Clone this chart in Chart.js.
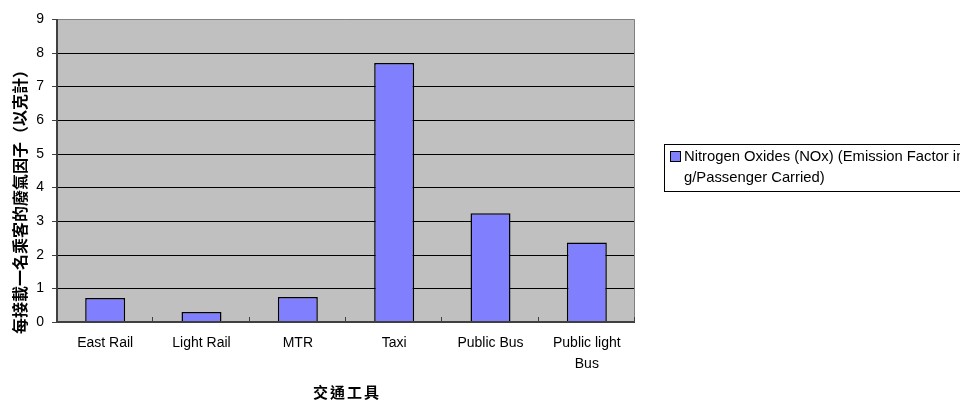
<!DOCTYPE html>
<html>
<head>
<meta charset="utf-8">
<script src="https://cdn.jsdelivr.net/npm/chart.js@4.4.1/dist/chart.umd.min.js"></script>
<style>
  html, body { margin: 0; padding: 0; background: #fff; }
  #wrap { width: 960px; height: 401px; position: relative; overflow: hidden; }
</style>
</head>
<body>
<div id="wrap"><canvas id="c" width="960" height="401"></canvas></div>
<script>
// Transport modes and NOx emission factor per passenger carried (grams)
const categories = ['East Rail', 'Light Rail', 'MTR', 'Taxi', 'Public Bus', ['Public light', 'Bus']];
const noxValues = [0.71, 0.30, 0.74, 7.69, 3.23, 2.36];
const seriesLabel = ['Nitrogen Oxides (NOx) (Emission Factor in', 'g/Passenger Carried)'];
const yTicks = [0, 1, 2, 3, 4, 5, 6, 7, 8, 9];
const yTitle = '每接載一名乘客的廢氣因子（以克計）';
const xTitle = '交通工具';

const LATIN = '"Liberation Sans", Arial, sans-serif';
const CJK = '"Noto Sans CJK TC", "Noto Sans CJK SC", sans-serif';
const BAR_FILL = '#8080FF';

// Grey plot background, gridlines, frame and tick marks
const plotFrame = {
  id: 'plotFrame',
  beforeDatasetsDraw(chart) {
    const { ctx, chartArea: a } = chart;
    const y = chart.scales.y;
    ctx.save();
    ctx.fillStyle = '#C0C0C0';
    ctx.fillRect(a.left, a.top, a.right - a.left, a.bottom - a.top);
    ctx.strokeStyle = '#000';
    ctx.lineWidth = 1;
    yTicks.forEach(v => {
      if (v === 0 || v === 9) return;
      const py = Math.round(y.getPixelForValue(v)) + 0.5;
      ctx.beginPath();
      ctx.moveTo(a.left, py);
      ctx.lineTo(a.right, py);
      ctx.stroke();
    });
    ctx.strokeStyle = '#808080';
    ctx.beginPath();
    ctx.moveTo(a.left, a.top + 0.5);
    ctx.lineTo(a.right - 0.5, a.top + 0.5);
    ctx.lineTo(a.right - 0.5, a.bottom);
    ctx.stroke();
    ctx.restore();
  },
  afterDatasetsDraw(chart) {
    const { ctx, chartArea: a } = chart;
    const y = chart.scales.y;
    ctx.save();
    ctx.strokeStyle = '#404040';
    ctx.lineWidth = 2;
    ctx.beginPath();
    ctx.moveTo(a.left, a.top);
    ctx.lineTo(a.left, a.bottom);
    ctx.lineTo(a.right, a.bottom);
    ctx.stroke();
    ctx.lineWidth = 1;
    // value ticks point outward
    yTicks.forEach(v => {
      const py = Math.round(y.getPixelForValue(v)) + 0.5;
      ctx.beginPath();
      ctx.moveTo(a.left - 5, py);
      ctx.lineTo(a.left, py);
      ctx.stroke();
    });
    // category boundary ticks point inward
    const step = (a.right - a.left) / categories.length;
    for (let i = 1; i <= categories.length; i++) {
      const px = Math.round(a.left + step * i) - 0.5;
      ctx.beginPath();
      ctx.moveTo(px, a.bottom);
      ctx.lineTo(px, a.bottom - 5);
      ctx.stroke();
    }
    ctx.restore();
  }
};

// Axis titles and the boxed legend on the right
const annotations = {
  id: 'annotations',
  afterDraw(chart) {
    const { ctx, chartArea: a } = chart;
    const ds = chart.data.datasets[0];
    ctx.save();
    ctx.fillStyle = '#000';
    ctx.textAlign = 'center';
    ctx.textBaseline = 'middle';

    // vertical axis title
    ctx.save();
    ctx.translate(20, 198);
    ctx.rotate(-Math.PI / 2);
    ctx.font = 'bold 16px ' + CJK;
    ctx.fillText(yTitle, 0, 0);
    ctx.restore();

    // horizontal axis title
    ctx.font = 'bold 15px ' + CJK;
    ctx.letterSpacing = '2px';
    ctx.fillText(xTitle, (a.left + a.right) / 2 + 1, 392);
    ctx.letterSpacing = '0px';

    // legend
    ctx.fillStyle = '#fff';
    ctx.fillRect(664, 144, 310, 47);
    ctx.strokeStyle = '#000';
    ctx.lineWidth = 1;
    ctx.strokeRect(664.5, 144.5, 310, 47);
    ctx.fillStyle = ds.backgroundColor;
    ctx.fillRect(670, 151, 10, 10);
    ctx.strokeRect(670.5, 151.5, 10, 10);
    ctx.fillStyle = '#000';
    ctx.font = '14.8px ' + LATIN;
    ctx.textAlign = 'left';
    seriesLabel.forEach((t, i) => ctx.fillText(t, 684, 157 + i * 21));
    ctx.restore();
  }
};

new Chart(document.getElementById('c'), {
  type: 'bar',
  data: {
    labels: categories,
    datasets: [{
      label: seriesLabel.join(' '),
      data: noxValues,
      backgroundColor: BAR_FILL,
      borderColor: '#000',
      borderWidth: 1.5,
      barPercentage: 0.415,
      categoryPercentage: 1
    }]
  },
  options: {
    responsive: false,
    animation: false,
    devicePixelRatio: 1,
    layout: { padding: { left: 0, top: 19, right: 325, bottom: 0 } },
    plugins: {
      legend: { display: false },
      tooltip: { enabled: false }
    },
    scales: {
      x: {
        grid: { display: false, drawTicks: false },
        border: { display: false },
        ticks: {
          color: '#000',
          font: { family: LATIN, size: 14, lineHeight: 1.5 },
          padding: 11,
          maxRotation: 0,
          autoSkip: false
        },
        afterFit(scale) {
          scale.height = 79;
          scale.paddingLeft = 0;
          scale.paddingRight = 0;
        }
      },
      y: {
        min: 0,
        max: 9,
        grid: { display: false, drawTicks: false },
        border: { display: false },
        ticks: {
          stepSize: 1,
          color: '#000',
          font: { family: LATIN, size: 14 },
          padding: 13
        },
        afterFit(scale) {
          scale.width = 57;
          scale.paddingTop = 0;
          scale.paddingBottom = 0;
        }
      }
    }
  },
  plugins: [plotFrame, annotations]
});
</script>
</body>
</html>
